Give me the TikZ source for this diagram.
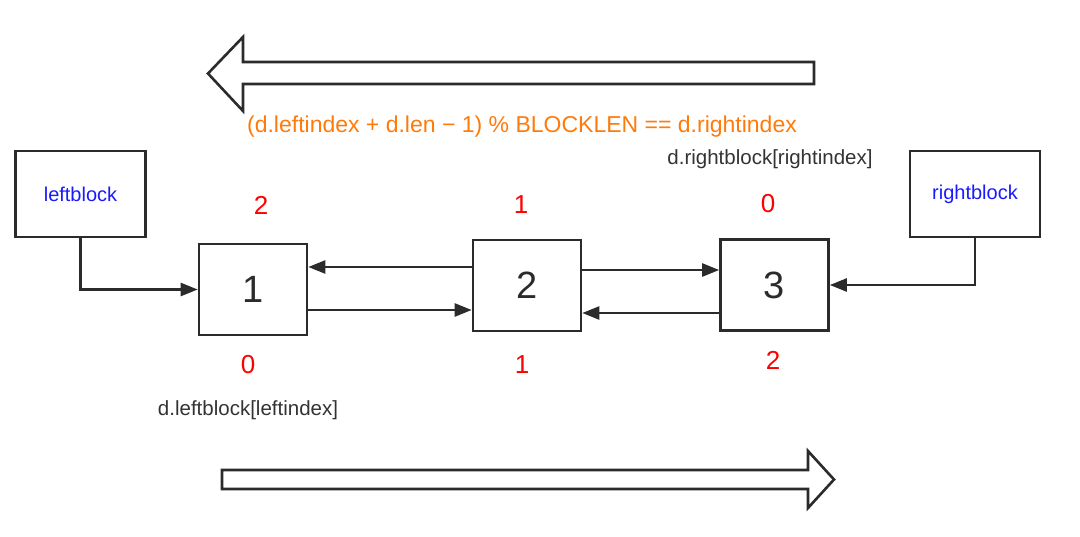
\documentclass[tikz,border=0pt]{standalone}
\usepackage{fontspec}
\setmainfont{Liberation Sans}
\usetikzlibrary{arrows.meta}
\definecolor{linec}{HTML}{2B2B2B}
\definecolor{textc}{HTML}{333333}
\definecolor{idxred}{HTML}{FF0000}
\definecolor{blockblue}{HTML}{1A1AFF}
\definecolor{formula}{HTML}{FF7A0A}
\begin{document}
\begin{tikzpicture}[x=1pt,y=-1pt,
  box/.style={draw=linec,line width=2.6pt,fill=white,inner sep=0pt},
  bigbox/.style={box,minimum width=130pt,minimum height=86pt,
     text=blockblue,font=\fontsize{20}{24}\selectfont},
  databox/.style={box,minimum width=108pt,minimum height=91pt,
     text=linec,font=\fontsize{38}{44}\selectfont},
  idx/.style={text=idxred,font=\fontsize{26}{30}\selectfont,inner sep=0pt},
  note/.style={text=textc,font=\fontsize{20.5}{24}\selectfont,inner sep=0pt},
  arr/.style={draw=linec,line width=2.4pt,-{Triangle[length=17pt,width=13pt]}},
  fat/.style={draw=linec,line width=2.6pt,fill=white,line join=miter}
]
\useasboundingbox (0,0) rectangle (1080,536);

% big direction arrows
\draw[fat] (814,62) -- (243,62) -- (243,37) -- (208,73.5) -- (243,111) -- (243,84) -- (814,84) -- cycle;
\draw[fat] (222,470) -- (808,470) -- (808,451) -- (834,479.5) -- (808,508) -- (808,489) -- (222,489) -- cycle;

\node[text=formula,font=\fontsize{23}{27}\selectfont,inner sep=0pt] (formula) at (522,127)
  {(d.leftindex + d.len − 1) \% BLOCKLEN == d.rightindex};

% blocks
\node[bigbox] (lb) at (80.5,194) {leftblock};
\node[bigbox] (rb) at (975,194) {rightblock};
\node[databox] (b1) at (253,289.5) {1};
\node[databox] (b2) at (527,285.5) {2};
\node[databox] (b3) at (774.5,285) {3};

% connectors
\draw[arr] (lb.south) |- (b1.west);
\draw[arr] (rb.south) |- (b3.east);
\draw[arr] ([yshift=18.5pt]b2.west) -- ([yshift=18.5pt]b2.west -| b1.east);
\draw[arr] ([yshift=-20.5pt]b1.east) -- ([yshift=-20.5pt]b1.east -| b2.west);
\draw[arr] ([yshift=15.5pt]b2.east) -- ([yshift=15.5pt]b2.east -| b3.west);
\draw[arr] ([yshift=-28pt]b3.west) -- ([yshift=-28pt]b3.west -| b2.east);

% index labels
\node[idx] (t1) at (261,205) {2};
\node[idx] (t2) at (521,205) {1};
\node[idx] (t3) at (768,204) {0};
\node[idx] (u1) at (248,365) {0};
\node[idx] (u2) at (522,365) {1};
\node[idx] (u3) at (773,360) {2};

% notes
\node[note] (rn) at (770,159) {d.rightblock[rightindex]};
\node[note] (ln) at (248,410) {d.leftblock[leftindex]};
\end{tikzpicture}
\end{document}
